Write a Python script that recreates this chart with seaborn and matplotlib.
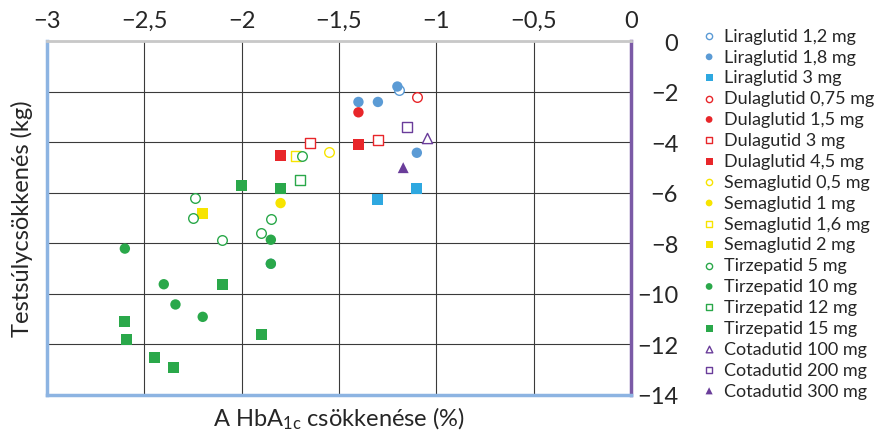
import matplotlib
matplotlib.use("Agg")
import matplotlib.pyplot as plt
import seaborn as sns
import pandas as pd

# series labels, marker style and colour
labels = [
    "Liraglutid 1,2 mg", "Liraglutid 1,8 mg", "Liraglutid 3 mg",
    "Dulaglutid 0,75 mg", "Dulaglutid 1,5 mg", "Dulagutid 3 mg", "Dulaglutid 4,5 mg",
    "Semaglutid 0,5 mg", "Semaglutid 1 mg", "Semaglutid 1,6 mg", "Semaglutid 2 mg",
    "Tirzepatid 5 mg", "Tirzepatid 10 mg", "Tirzepatid 12 mg", "Tirzepatid 15 mg",
    "Cotadutid 100 mg", "Cotadutid 200 mg", "Cotadutid 300 mg",
]

# HbA1c reduction (%) per series
hba1c = [
    [-1.19],
    [-1.85, -1.20, -1.40, -1.30, -1.10],
    [-1.10, -1.30],
    [-1.10],
    [-1.40],
    [-1.65, -1.30],
    [-1.80, -1.40],
    [-1.55],
    [-1.80],
    [-1.72],
    [-2.20],
    [-1.69, -2.24, -2.25, -1.85, -2.10, -1.90],
    [-1.85, -2.60, -2.40, -2.34, -2.20, -1.85],
    [-1.70],
    [-2.00, -1.80, -2.10, -2.60, -2.59, -1.90, -2.45, -2.35],
    [-1.05],
    [-1.15],
    [-1.17],
]

# weight loss (kg) per series
weight = [
    [-1.92],
    [-8.81, -1.80, -2.41, -2.41, -4.42],
    [-5.82, -6.27],
    [-2.21],
    [-2.82],
    [-4.02, -3.90],
    [-4.51, -4.11],
    [-4.40],
    [-6.41],
    [-4.56],
    [-6.81],
    [-4.56, -6.21, -7.00, -7.02, -7.86, -7.60],
    [-7.86, -8.21, -9.62, -10.42, -10.91, -8.81],
    [-5.50],
    [-5.71, -5.82, -9.62, -11.11, -11.82, -11.61, -12.52, -12.92],
    [-3.84],
    [-3.41],
    [-5.01],
]

BLUE = "#5b9bd5"
BLUE2 = "#2ea8e0"
RED = "#e8262a"
YELLOW = "#f7e400"
GREEN = "#2aa84a"
PURPLE = "#6a3d9a"

colors = [BLUE, BLUE, BLUE2, RED, RED, RED, RED, YELLOW, YELLOW, YELLOW, YELLOW,
          GREEN, GREEN, GREEN, GREEN, PURPLE, PURPLE, PURPLE]
markers = ["o", "o", "s", "o", "o", "s", "s", "o", "o", "s", "s",
           "o", "o", "s", "s", "^", "s", "^"]
filled = [False, True, True, False, True, False, True, False, True, False, True,
          False, True, False, True, False, False, True]

xticks = [-3, -2.5, -2, -1.5, -1, -0.5, 0]
xticklabels = ["−3", "−2,5", "−2", "−1,5", "−1", "−0,5", "0"]
yticks = [0, -2, -4, -6, -8, -10, -12, -14]
yticklabels = ["0", "−2", "−4", "−6", "−8", "−10", "−12", "−14"]

sns.set_style("white")
plt.rcParams["font.family"] = ["Lato", "DejaVu Sans"]
plt.rcParams["mathtext.default"] = "regular"

fig = plt.figure(figsize=(8.8, 4.39), dpi=100)
ax = fig.add_axes([0.0534, 0.098, 0.717 - 0.0534, 0.9043 - 0.098])

for i in range(len(labels)):
    df = pd.DataFrame({"x": hba1c[i], "y": weight[i]})
    size = 62 if markers[i] != "o" else 56
    if filled[i]:
        sns.scatterplot(data=df, x="x", y="y", ax=ax, marker=markers[i], s=size,
                        color=colors[i], edgecolor="none", label=labels[i], zorder=3)
    else:
        sns.scatterplot(data=df, x="x", y="y", ax=ax, marker=markers[i], s=size - 8,
                        color=colors[i], facecolor="white", edgecolor=colors[i],
                        linewidth=1.0, label=labels[i], zorder=3)

ax.set_xlim(-3, 0)
ax.set_ylim(-14, 0)
ax.set_xticks(xticks)
ax.set_xticklabels(xticklabels)
ax.set_yticks(yticks)
ax.set_yticklabels(yticklabels, ha="right")
ax.xaxis.tick_top()
ax.yaxis.tick_right()
ax.tick_params(axis="x", length=0, pad=7, labelsize=17)
ax.tick_params(axis="y", length=0, pad=34, labelsize=17)
ax.grid(True, color="#3a3a3a", linewidth=0.8)
ax.set_axisbelow(True)

for side, col, lw in [("left", "#8db4e2", 2.5), ("bottom", "#8db4e2", 2.5),
                      ("top", "#c8c8c8", 2.0), ("right", "#7b5aa6", 2.5)]:
    ax.spines[side].set_visible(True)
    ax.spines[side].set_color(col)
    ax.spines[side].set_linewidth(lw)

ax.set_xlabel("A HbA$_{1c}$ csökkenése (%)", fontsize=17, labelpad=7)
ax.set_ylabel("Testsúlycsökkenés (kg)", fontsize=17, labelpad=10)

ax.legend(loc="upper left", bbox_to_anchor=(1.106, 1.058), frameon=False,
          fontsize=13, markerscale=0.65, labelspacing=0.27, handletextpad=0.35,
          handlelength=1.0, borderaxespad=0)

fig.savefig("out.png", dpi=100)
